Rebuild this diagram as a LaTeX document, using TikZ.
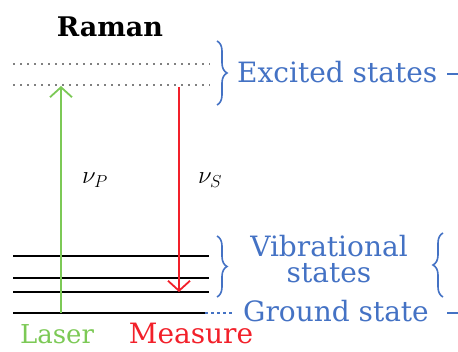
\documentclass[tikz,border=0pt]{standalone}
\usepackage{fontspec}
\setmainfont{DejaVu Serif}
\usetikzlibrary{arrows.meta,decorations.pathreplacing}
\definecolor{lblue}{HTML}{4472C4}
\definecolor{lgreen}{HTML}{7CC956}
\definecolor{lred}{HTML}{F2202A}
\tikzset{
  lbl/.style={font=\fontsize{28}{26}\selectfont, inner sep=0pt},
  bluelbl/.style={lbl, text=lblue},
  level/.style={line width=2pt, black},
  exlevel/.style={line width=1.4pt, gray, dash pattern=on 1.5pt off 5.5pt},
  brc/.style={decorate, decoration={brace, amplitude=10pt}, lblue, line width=1.6pt},
  arr/.style={line width=1.8pt, -{Straight Barb[length=10pt,width=22pt]}},
}
\begin{document}
\begin{tikzpicture}[x=1pt,y=-1pt]
\useasboundingbox (0,0) rectangle (458,352);
% title
\node[lbl, font=\fontsize{27}{28}\selectfont\bfseries, anchor=base] (title) at (110,37) {Raman};
% excited (virtual) levels
\coordinate (e1l) at (13,64); \coordinate (e1r) at (210,64);
\coordinate (e2l) at (13,85); \coordinate (e2r) at (210,85);
\draw[exlevel] (e1l) -- (e1r);
\draw[exlevel] (e2l) -- (e2r);
% vibrational levels
\coordinate (v1l) at (13,256); \coordinate (v1r) at (209,256);
\coordinate (v2l) at (13,278); \coordinate (v2r) at (209,278);
\coordinate (v3l) at (13,292); \coordinate (v3r) at (209,292);
\coordinate (gl) at (13,313); \coordinate (gr) at (205,313);
\draw[level] (v1l) -- (v1r);
\draw[level] (v2l) -- (v2r);
\draw[level] (v3l) -- (v3r);
\draw[level] (gl) -- (gr);
% arrows
\coordinate (lasbot) at (61,313); \coordinate (lastop) at (61,86);
\coordinate (mtop) at (179,87); \coordinate (mbot) at (179,292);
\draw[arr, lgreen] (lasbot) -- (lastop);
\draw[arr, lred] (mtop) -- (mbot);
\node[lbl, font=\fontsize{25}{28}\selectfont] (nup) at (95,180) {$\nu_P$};
\node[lbl, font=\fontsize{25}{28}\selectfont] (nus) at (210,180) {$\nu_S$};
% braces
\coordinate (b1t) at (217,41); \coordinate (b1b) at (217,105);
\draw[brc] (b1t) -- (b1b);
\node[bluelbl, anchor=base west] (exc) at (237,83) {Excited states};
\coordinate (exd1) at (447,74); \coordinate (exd2) at (458,74);
\draw[lblue, line width=1.3pt] (exd1) -- (exd2);
\coordinate (b2t) at (217,236); \coordinate (b2b) at (217,297);
\draw[brc] (b2t) -- (b2b);
\node[bluelbl, anchor=base] (vib) at (329,257) {Vibrational};
\node[bluelbl, anchor=base] (vst) at (329,283) {states};
\coordinate (b3t) at (443,297); \coordinate (b3b) at (443,233);
\draw[brc] (b3t) -- (b3b);
% ground state
\coordinate (gd) at (232,313);
\draw[lblue, line width=1.3pt, dash pattern=on 3pt off 3pt] (gr) -- (gd);
\node[bluelbl, anchor=base west] (gnd) at (243,322) {Ground state};
\coordinate (gd1) at (447,313); \coordinate (gd2) at (458,313);
\draw[lblue, line width=1.3pt] (gd1) -- (gd2);
% bottom labels
\node[lbl, font=\fontsize{26}{28}\selectfont, text=lgreen, anchor=base] (laser) at (57,344) {Laser};
\node[lbl, text=lred, anchor=base] (meas) at (191,344) {Measure};
\end{tikzpicture}
\end{document}
